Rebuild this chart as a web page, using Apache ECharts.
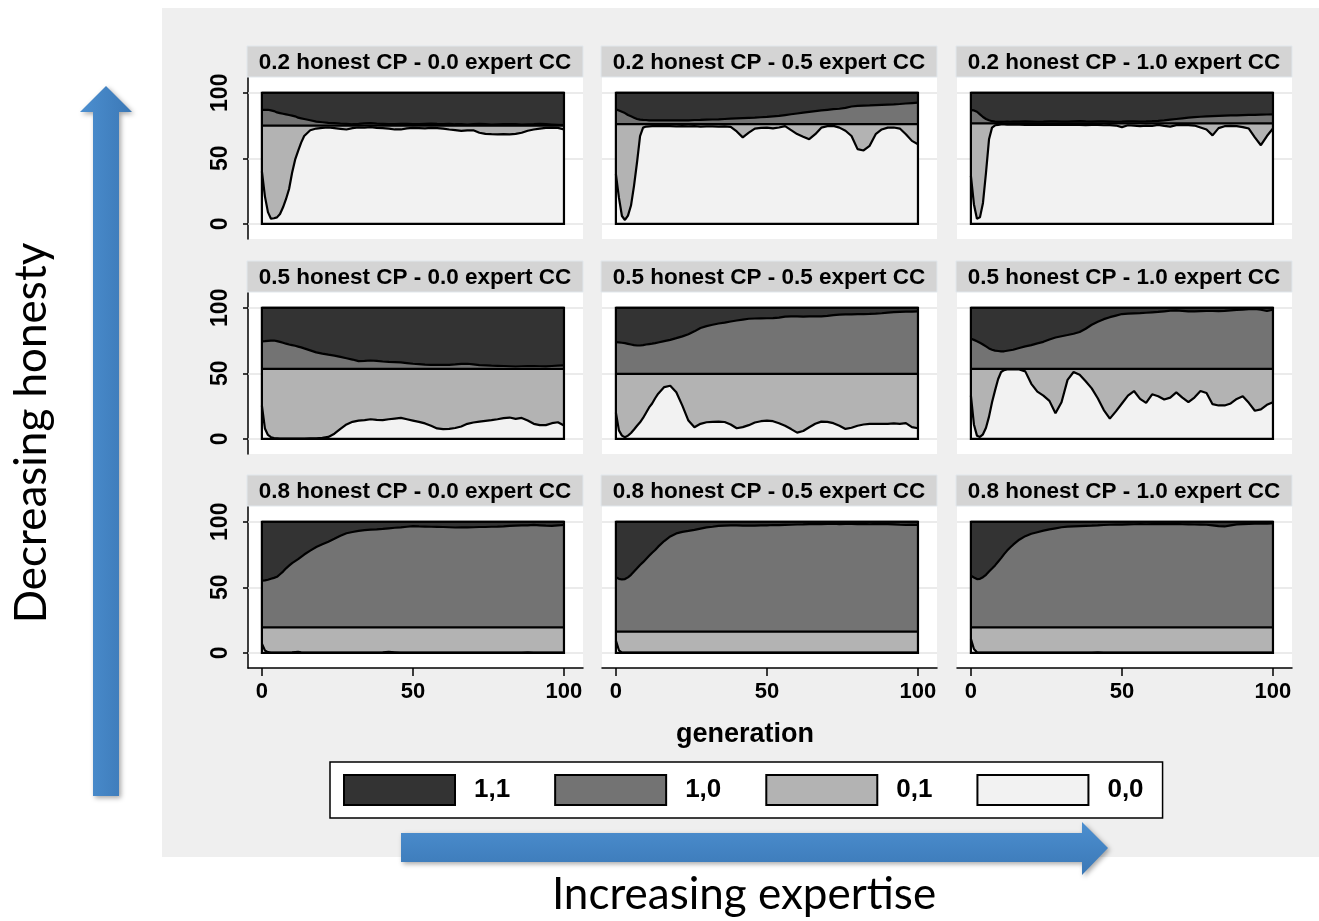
<!DOCTYPE html>
<html>
<head>
<meta charset="utf-8">
<script src="https://cdn.jsdelivr.net/npm/echarts@6/dist/echarts.min.js"></script>
<style>
  html, body { margin: 0; padding: 0; background: #fff; }
  #chart { width: 1319px; height: 921px; }
</style>
</head>
<body>
<div id="chart"></div>
<script>
// generations sampled along the x axis
const gens = [0, 1, 2, 3, 4, 5, 6, 7, 8, 9, 10, 11, 12, 13, 14, 16, 18, 20, 22, 24, 26, 28, 30, 32, 34, 36, 38, 40,
  42, 44, 46, 48, 50, 52, 54, 56, 58, 60, 62, 64, 66, 68, 70, 72, 74, 76, 78, 80, 82, 84, 86, 88, 90, 92, 94, 96, 98, 100];

const honestLevels = ['0.2', '0.5', '0.8'];
const expertLevels = ['0.0', '0.5', '1.0'];
const stateNames = ['1,1', '1,0', '0,1', '0,0'];
const stateFills = ['#333333', '#737373', '#b3b3b3', '#f2f2f2'];

// cumulative share: top of the 0,1 band (flat), one per panel, row by row
const flatTop = [75, 76, 76.7, 53.4, 49.6, 53.4, 19.5, 16.2, 19.5];

// cumulative share: top of the 1,0 band
const mid_02_00 = [87, 87, 87, 86.5, 86, 85, 84.5, 84, 83.5, 83, 82.5, 82, 81, 80.5, 80,
  79, 78, 77.5, 77, 76.8, 76.5, 76.3, 76,
  76.2, 76.6, 76.8, 76.4, 76.2, 76, 76.1, 76.3, 76.2, 76, 76.1, 76.3, 76.4, 76.2, 76.1, 76.3, 76, 76, 75.8, 76,
  76.2, 76, 75.8, 75.9, 76, 76.1, 76, 75.8, 75.9, 76, 76.2, 76, 75.8, 75.6, 75.4];
const mid_02_05 = [87.3, 86.5, 85.5, 84.5, 83, 82, 81, 80, 79.5, 79.3, 79.2, 79, 79, 79, 79,
  79, 79, 79, 79, 79, 79.2, 79.3, 79.5,
  79.6, 79.7, 80, 80.2, 80.4, 80.6, 80.8, 81, 81.3, 81.6, 82, 82.3, 83, 83.6, 84.2, 84.8, 85.4, 86, 86.5, 87,
  87.5, 87.8, 88.5, 89.5, 90, 90.2, 90.3, 90.5, 90.7, 90.9, 91.1, 91.4, 91.8, 92.1, 92.4];
const mid_02_10 = [86.8, 86.5, 85.5, 83.5, 81.5, 80, 79, 78.3, 78, 77.8, 77.8, 77.9, 78, 77.9, 78,
  78, 78.1, 78, 77.9, 78, 78.2, 78.1, 78,
  78, 78.2, 78.3, 78.1, 78, 78.2, 78.1, 78, 77.9, 78, 78.2, 78.1, 78, 78.1, 78.3, 78.6, 79, 79.5, 80, 80.5,
  81, 81.4, 81.7, 82, 82.2, 82.4, 82.6, 82.7, 82.8, 83, 83.1, 83.2, 83.3, 83.4, 83.5];
const mid_05_00 = [74.3, 74.5, 74.8, 75, 75, 74.5, 74, 73.3, 72.6, 72, 71.5, 71, 70.4, 69.8, 69,
  67.5, 66, 65, 64.2, 63.5, 62.5, 61.5, 60.5,
  59.3, 59.5, 59.8, 59.5, 59, 58.7, 58.5, 58.3, 57.8, 57.3, 57, 56.7, 56.5, 56.5, 56.4, 56.5, 56.8, 57.2, 57.3, 56.8,
  56.2, 56, 55.8, 55.7, 55.6, 55.4, 55.2, 55.4, 55.5, 55.5, 55.4, 55.3, 55.6, 55.8, 56];
const mid_05_05 = [73.8, 73.6, 73.3, 73, 72.5, 72, 71.5, 71.2, 71.2, 71.5, 72, 72.3, 72.6, 73, 73.5,
  74.5, 75.5, 76.8, 78.2, 79.8, 82, 84.5, 86,
  87, 88, 88.6, 89.5, 90.3, 91, 91.6, 91.8, 91.9, 92, 92.1, 92.5, 93.2, 93.4, 93.4, 93.3, 93.4, 93.5, 93.4, 93.8,
  94.3, 94.7, 94.9, 95, 95.2, 95.2, 95.3, 95.5, 95.8, 96.3, 96.6, 96.8, 97, 97.1, 97.2];
const mid_05_10 = [76.3, 75.5, 74.5, 73.3, 72, 70.5, 69, 68, 67.3, 67, 66.7, 66.8, 67.2, 67.6, 68,
  69.3, 70.5, 71.5, 72.8, 74, 75.8, 77.3, 78.3,
  79.2, 80.2, 81.5, 84, 87, 89.3, 91.3, 92.8, 94, 95.2, 95.5, 95.7, 95.9, 96.2, 96.5, 96.8, 97.3, 97.8, 98, 97.6,
  97.2, 97.3, 97.4, 97.5, 97.5, 97.4, 97.6, 98, 98.4, 98.6, 98.9, 99.2, 98.5, 97.5, 98.5];
const mid_08_00 = [55, 55.3, 55.8, 56.5, 57.2, 58, 60, 62, 64.5, 66.5, 68.5, 70, 71.5, 73.3, 75,
  78, 80.7, 82.8, 84.8, 87, 89.3, 91.2, 92.2,
  93, 93.6, 94, 94.2, 94.5, 95, 95.4, 95.7, 96.2, 96.7, 96.4, 96.3, 96.2, 96.1, 96, 95.8, 95.6, 95.8, 95.7, 95.8,
  96, 96, 96.2, 96.3, 96.5, 96.8, 97, 97.2, 97.3, 97.6, 97.3, 97, 96.8, 97.2, 97.5];
const mid_08_05 = [57.6, 56.5, 56, 56.3, 57.6, 59.5, 62, 64.5, 67, 69.2, 71.6, 74, 76.4, 78.5, 81,
  85.3, 88.8, 91.1, 92.3, 93, 93.8, 94.8, 95.7,
  96.2, 96.8, 97, 97.2, 97.2, 97.1, 97, 97, 97.2, 97.3, 97.5, 97.4, 97.6, 97.7, 97.9, 98, 98.2, 98.3, 98.2, 98.4,
  98.5, 98.2, 98.3, 98.4, 98.2, 98.4, 98.1, 98.3, 98.2, 98.2, 98, 97.7, 97.5, 97.6, 97.5];
const mid_08_10 = [58.9, 57.5, 56.3, 56.5, 57.7, 59.5, 62, 64.3, 66.7, 69.5, 72.3, 75.3, 78, 80.4, 82.5,
  86.3, 89, 90.8, 92, 93.2, 94.2, 95, 95.8,
  96.3, 96.5, 96.7, 96.9, 97, 97.2, 97.5, 97.7, 97.8, 97.8, 98, 98.1, 98.2, 98.1, 98.2, 98.3, 98.2, 98.2, 98.3, 98.1,
  98, 97.9, 97.8, 97.7, 97.2, 96.6, 96.4, 97.2, 98, 98.2, 98.4, 98.5, 98.5, 98.6, 98.7];

// cumulative share: top of the 0,0 band
const low_02_00 = [40, 21, 9, 4, 4.3, 5, 7.6, 12.7, 19, 26.6, 39, 49, 55.7, 62, 67,
  71.4, 72.7, 73.2, 73.5, 73, 72.5, 72, 73,
  73.5, 73.3, 73.8, 73.2, 73, 72.6, 72, 72, 72.8, 73.2, 73, 72.8, 73.2, 73, 72.7, 72, 71.5, 70.9, 71.3, 71.4,
  69.5, 68.6, 68.4, 68.3, 68.5, 68.2, 68.6, 69.5, 71, 72, 72.7, 73.2, 73.4, 73.2, 72];
const low_02_05 = [38, 20, 6, 3, 6.3, 14, 29, 47, 67, 73.4, 74.2, 74.4, 74.5, 74.5, 74.5,
  74.5, 74.5, 74.3, 74.5, 74.3, 74.5, 74.2, 74.3,
  74.4, 74.2, 74.3, 74, 70.5, 66, 69.6, 72.7, 73.2, 73.4, 72.8, 73.5, 74.5, 71.5, 68.5, 66.5, 64.6, 68.4, 73.4, 74.5,
  74.7, 73.4, 71, 67, 57, 56, 59.5, 68.4, 72, 73.4, 73.5, 72.7, 68.4, 63.3, 60.8];
const low_02_10 = [36.7, 15, 4, 5, 16, 39, 64.5, 73.4, 75.2, 75.5, 75.8, 75.8, 75.7, 75.8, 75.6,
  75.6, 75.5, 75.7, 75.5, 75.6, 75.4, 75.6, 75.5,
  75.6, 75.4, 75.5, 75.3, 75.4, 75.5, 75.2, 75.3, 75, 73.8, 75.2, 75, 74.5, 75, 74.8, 75.5, 74.8, 74.2, 75.3, 75.5,
  75.3, 75, 73.5, 72, 67.5, 73, 74.5, 74.8, 74.5, 73.8, 72.7, 66, 60, 67, 72.7];
const low_05_00 = [25.4, 8, 3, 1.3, 0.7, 0.5, 0.3, 0.3, 0.3, 0.3, 0.3, 0.3, 0.3, 0.3, 0.3,
  0.4, 0.5, 0.8, 1.5, 4, 7.6, 11, 13,
  14, 14.3, 15, 14.5, 14.3, 15, 15.5, 16, 15, 14, 13, 11.8, 10, 8, 7.5, 7.6, 8.3, 9.5, 11.5, 12.5,
  13.2, 13.8, 14.3, 15, 15.8, 16.3, 15.3, 16, 14, 11.5, 10.5, 10.5, 12, 12.7, 10.2];
const low_05_05 = [20, 6.5, 2.5, 1.3, 2.5, 4.5, 7.2, 10, 12.7, 16, 20, 24, 27, 31, 34.5,
  39.5, 40.5, 35.6, 25.4, 14, 8.9, 11.5, 12.7,
  13, 13.2, 12.9, 11, 8.1, 9, 10.5, 12.5, 13.5, 14, 13.5, 12, 10, 7.5, 4.8, 6, 8.9, 11.5, 13.2, 13,
  12, 10, 7.6, 8.5, 10, 11, 11.5, 11.5, 11.5, 11.5, 11.8, 11.5, 12, 9, 8.1];
const low_05_10 = [33, 11, 2.5, 1.5, 3.5, 8.5, 17, 28, 37, 45.5, 51, 52.5, 52.9, 53, 53,
  53, 51.5, 42, 36, 33, 29, 19.5, 28,
  45, 51, 49, 44, 38.5, 31, 22, 15.5, 21, 27, 33, 36.5, 30.5, 27.5, 34, 32.5, 30, 31.5, 35.5, 31.5,
  28, 31.5, 36.5, 35, 26.5, 25.5, 25.5, 27, 30.5, 32.5, 27.5, 21.5, 22.5, 26, 28];
const low_08_00 = [7, 1.8, 0.6, 0.3, 0.2, 0.2, 0.2, 0.2, 0.2, 0.3, 0.4, 0.6, 0.8, 0.5, 0.3,
  0.2, 0.2, 0.2, 0.2, 0.2, 0.2, 0.2, 0.2,
  0.2, 0.2, 0.2, 0.3, 0.5, 0.8, 0.5, 0.2, 0.2, 0.2, 0.2, 0.2, 0.2, 0.2, 0.2, 0.2, 0.2, 0.2, 0.2, 0.2,
  0.2, 0.2, 0.2, 0.2, 0.2, 0.2, 0.2, 0.3, 0.5, 0.3, 0.2, 0.2, 0.2, 0.2, 0.2];
const low_08_05 = [9.4, 2, 0.3, 0.2, 0.2, 0.2, 0.2, 0.2, 0.2, 0.2, 0.2, 0.2, 0.2, 0.2, 0.2,
  0.2, 0.2, 0.2, 0.2, 0.2, 0.2, 0.2, 0.2,
  0.2, 0.2, 0.2, 0.2, 0.2, 0.2, 0.2, 0.2, 0.2, 0.2, 0.2, 0.2, 0.2, 0.2, 0.2, 0.2, 0.2, 0.2, 0.2, 0.2,
  0.2, 0.2, 0.2, 0.2, 0.2, 0.2, 0.2, 0.2, 0.2, 0.2, 0.2, 0.2, 0.2, 0.2, 0.2];
const low_08_10 = [10.7, 3, 0.5, 0.2, 0.2, 0.2, 0.2, 0.2, 0.2, 0.2, 0.2, 0.2, 0.2, 0.2, 0.2,
  0.2, 0.2, 0.2, 0.2, 0.2, 0.2, 0.2, 0.2,
  0.2, 0.2, 0.2, 0.2, 0.3, 0.5, 0.3, 0.2, 0.2, 0.2, 0.2, 0.2, 0.2, 0.2, 0.2, 0.2, 0.2, 0.2, 0.2, 0.2,
  0.2, 0.2, 0.2, 0.2, 0.2, 0.2, 0.2, 0.2, 0.2, 0.2, 0.2, 0.2, 0.2, 0.2, 0.2];

const midTops = [mid_02_00, mid_02_05, mid_02_10, mid_05_00, mid_05_05, mid_05_10, mid_08_00, mid_08_05, mid_08_10];
const lowTops = [low_02_00, low_02_05, low_02_10, low_05_00, low_05_05, low_05_10, low_08_00, low_08_05, low_08_10];
const axisTicks = [0, 50, 100];

// layout of the 3x3 panels (plot regions)
const colLeft = [248, 602, 957];
const rowTop = [77, 292, 506];
const panelW = 335;
const panelH = 162;
const headH = 31;

const FONT = '"Liberation Sans", Arial, sans-serif';
const CAPTION_FONT = 'Lato, "Open Sans", sans-serif';

const grids = [];
const xAxes = [];
const yAxes = [];
const series = [];
const graphics = [];

graphics.push({
  type: 'rect', z: -10, silent: true,
  shape: { x: 162, y: 8, width: 1157, height: 849 },
  style: { fill: '#efefef' },
});

const outline = { color: '#000', width: 2.2 };

for (let r = 0; r < 3; r++) {
  for (let c = 0; c < 3; c++) {
    const i = r * 3 + c;
    grids.push({
      left: colLeft[c], top: rowTop[r], width: panelW, height: panelH,
      show: true, backgroundColor: '#ffffff', borderWidth: 0,
    });
    const bottomRow = r === 2;
    xAxes.push({
      type: 'value', gridIndex: i, min: -4.6, max: 106.3,
      axisLine: { show: bottomRow, onZero: false, lineStyle: { color: '#000', width: 1.5 } },
      axisTick: { show: bottomRow, customValues: axisTicks, length: 8, lineStyle: { color: '#000', width: 1.5 } },
      axisLabel: {
        show: bottomRow, customValues: axisTicks, fontFamily: FONT, fontWeight: 'bold',
        fontSize: 22, color: '#000', margin: 13,
      },
      splitLine: { show: false },
    });
    const leftCol = c === 0;
    yAxes.push({
      type: 'value', gridIndex: i, min: -11.5, max: 112,
      axisLine: { show: leftCol, onZero: false, lineStyle: { color: '#000', width: 1.5 } },
      axisTick: { show: leftCol, customValues: axisTicks, length: 5, lineStyle: { color: '#000', width: 1.5 } },
      axisLabel: {
        show: leftCol, customValues: axisTicks, rotate: 90, fontFamily: FONT, fontWeight: 'bold',
        fontSize: 23, color: '#000', margin: 16,
      },
      splitLine: { show: false },
    });

    const common = {
      type: 'line', xAxisIndex: i, yAxisIndex: i, symbol: 'none', silent: true,
      lineStyle: outline, emphasis: { disabled: true }, animation: false,
    };
    const mid = midTops[i];
    const low = lowTops[i];
    series.push(Object.assign({}, common, {
      name: stateNames[0],
      data: [[0, 100], [100, 100]],
      itemStyle: { color: stateFills[0] },
      areaStyle: { color: stateFills[0], opacity: 1 },
      markLine: {
        silent: true, symbol: ['none', 'none'], z: 1, animation: false,
        label: { show: false },
        lineStyle: { color: '#e4e4e4', width: 1.5, type: 'solid' },
        data: axisTicks.map(v => ({ yAxis: v })),
      },
    }));
    series.push(Object.assign({}, common, {
      name: stateNames[1],
      data: gens.map((g, k) => [g, mid[k]]),
      itemStyle: { color: stateFills[1] },
      areaStyle: { color: stateFills[1], opacity: 1 },
    }));
    series.push(Object.assign({}, common, {
      name: stateNames[2],
      data: [[0, flatTop[i]], [100, flatTop[i]]],
      itemStyle: { color: stateFills[2] },
      areaStyle: { color: stateFills[2], opacity: 1 },
    }));
    series.push(Object.assign({}, common, {
      name: stateNames[3],
      data: gens.map((g, k) => [g, low[k]]),
      itemStyle: { color: stateFills[3] },
      areaStyle: { color: stateFills[3], opacity: 1 },
      markArea: {
        silent: true, z: 10, animation: false,
        itemStyle: { color: 'rgba(0,0,0,0)', borderColor: '#000', borderWidth: 2.2 },
        data: [[{ xAxis: 0, yAxis: 0 }, { xAxis: 100, yAxis: 100 }]],
      },
    }));

    // strip header
    const hx = colLeft[c] - 1;
    const hy = rowTop[r] - headH;
    graphics.push({
      type: 'rect', silent: true, z: 5,
      shape: { x: hx, y: hy, width: panelW + 1, height: headH },
      style: { fill: '#d4d4d4', stroke: '#e1e7ec', lineWidth: 1 },
    });
    graphics.push({
      type: 'text', silent: true, z: 6,
      x: hx + (panelW + 1) / 2, y: hy + headH / 2 + 1,
      style: {
        text: honestLevels[r] + ' honest CP - ' + expertLevels[c] + ' expert CC',
        font: 'bold 22.5px ' + FONT, fill: '#000', align: 'center', verticalAlign: 'middle',
      },
    });
  }
}

graphics.push({
  type: 'text', silent: true,
  x: 745, y: 735,
  style: { text: 'generation', font: 'bold 27px ' + FONT, fill: '#000', align: 'center', verticalAlign: 'middle' },
});

// blue arrows and their captions
const arrowShadow = { shadowBlur: 5, shadowColor: 'rgba(0,0,0,0.35)', shadowOffsetX: 2, shadowOffsetY: 2 };
graphics.push({
  type: 'polygon', silent: true,
  shape: { points: [[106, 86], [132, 112], [119, 112], [119, 796], [93, 796], [93, 112], [80, 112]] },
  style: Object.assign({
    fill: new echarts.graphic.LinearGradient(0, 0, 1, 0, [
      { offset: 0, color: '#4c8fd0' }, { offset: 1, color: '#3b78b6' }]),
  }, arrowShadow),
});
graphics.push({
  type: 'polygon', silent: true,
  shape: { points: [[401, 833], [1082, 833], [1082, 822], [1108, 848], [1082, 875], [1082, 862], [401, 862]] },
  style: Object.assign({
    fill: new echarts.graphic.LinearGradient(0, 0, 0, 1, [
      { offset: 0, color: '#4c8fd0' }, { offset: 1, color: '#3b78b6' }]),
  }, arrowShadow),
});
graphics.push({
  type: 'text', silent: true,
  x: 32, y: 433, rotation: Math.PI / 2,
  style: { text: 'Decreasing honesty', font: '44px ' + CAPTION_FONT, fill: '#000', align: 'center', verticalAlign: 'middle' },
});
graphics.push({
  type: 'text', silent: true,
  x: 744, y: 895,
  style: { text: 'Increasing expertise', font: '44px ' + CAPTION_FONT, fill: '#000', align: 'center', verticalAlign: 'middle' },
});

const chart = echarts.init(document.getElementById('chart'), null, { renderer: 'canvas' });
chart.setOption({
  animation: false,
  backgroundColor: '#ffffff',
  grid: grids,
  xAxis: xAxes,
  yAxis: yAxes,
  legend: {
    data: stateNames,
    selectedMode: false,
    left: 330, top: 762,
    padding: [12, 19, 12, 13],
    backgroundColor: '#ffffff',
    borderColor: '#000', borderWidth: 1.5,
    icon: 'rect',
    itemWidth: 111, itemHeight: 30, itemGap: 44,
    itemStyle: { borderColor: '#000', borderWidth: 2 },
    textStyle: { fontFamily: FONT, fontWeight: 'bold', fontSize: 26, color: '#000', padding: [0, 0, 0, 14] },
  },
  graphic: { elements: graphics },
  series: series,
});
</script>
</body>
</html>
